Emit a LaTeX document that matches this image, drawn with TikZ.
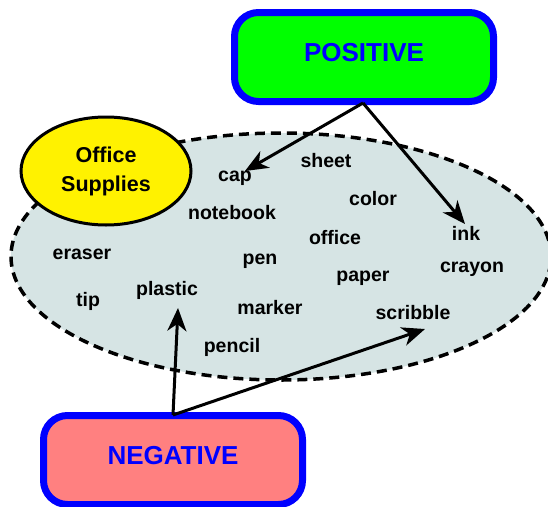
\documentclass[tikz,border=0pt]{standalone}
\usepackage{fontspec}
\setmainfont{Liberation Sans}
\usetikzlibrary{arrows.meta,shapes.geometric}
\definecolor{cloudfill}{RGB}{214,228,228}
\definecolor{posgreen}{RGB}{0,255,0}
\definecolor{negred}{RGB}{255,128,128}
\definecolor{boxblue}{RGB}{0,0,255}
\begin{document}
\begin{tikzpicture}[x=1pt,y=-1pt,
  word/.style={font=\fontsize{19.5}{22}\selectfont\bfseries, inner sep=1pt},
  bigbox/.style={draw=boxblue, line width=7pt, rounded corners=24pt, minimum width=259pt, minimum height=89pt, text=boxblue, text depth=10pt, font=\fontsize{26}{30}\selectfont\bfseries},
  conn/.style={line width=3pt, -{Stealth[length=23pt,width=19pt,inset=7pt]}}]
\useasboundingbox (0,0) rectangle (548,506);
\clip (0,0) rectangle (548,506);
% cloud
\node[draw, dash pattern=on 10pt off 6pt, line width=3.5pt, fill=cloudfill, ellipse, minimum width=540pt, minimum height=247pt, inner sep=0pt] (cloud) at (281,256.5) {};
% office supplies
\node[draw, line width=3pt, fill=yellow, ellipse, minimum width=170pt, minimum height=108pt, inner sep=0pt, align=center, font=\fontsize{21.5}{29}\selectfont\bfseries] (os) at (106,171) {Office\\Supplies};
% boxes
\node[bigbox, fill=posgreen] (pos) at (364,57) {POSITIVE};
\node[bigbox, fill=negred] (neg) at (173,460) {NEGATIVE};
% words
\node[word] (cap) at (235,178) {cap};
\node[word] (sheet) at (326,161) {sheet};
\node[word] (color) at (373,199) {color};
\node[word] (notebook) at (232,213) {notebook};
\node[word] (office) at (335,238) {office};
\node[word] (ink) at (466,233) {ink};
\node[word] (eraser) at (82,254) {eraser};
\node[word] (pen) at (260,261) {pen};
\node[word] (crayon) at (472,269) {crayon};
\node[word] (paper) at (363,278) {paper};
\node[word] (tip) at (88,301) {tip};
\node[word] (plastic) at (167,290) {plastic};
\node[word] (marker) at (270,308) {marker};
\node[word] (scribble) at (413,313) {scribble};
\node[word] (pencil) at (232,347) {pencil};
% connectors
\coordinate (ps) at (363,103);
\coordinate (ns) at (173,415);
\coordinate (capt) at (245,171);
\coordinate (inkt) at (465,224);
\coordinate (plt) at (178,308);
\coordinate (scrt) at (425,329);
\draw[conn] (ps) -- (capt);
\draw[conn] (ps) -- (inkt);
\draw[conn] (ns) -- (plt);
\draw[conn] (ns) -- (scrt);
\end{tikzpicture}
\end{document}
